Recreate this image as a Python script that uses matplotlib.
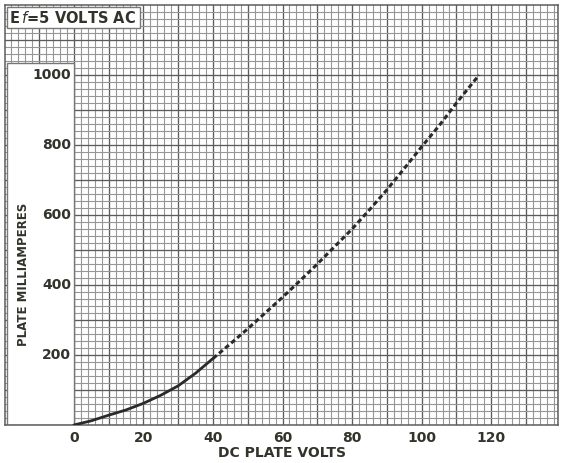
import numpy as np
import matplotlib
matplotlib.use("Agg")
import matplotlib.pyplot as plt
from matplotlib.patches import Rectangle

# plate volts vs plate milliamperes
volts = [0, 5, 10, 15, 20, 25, 30, 35, 40, 45, 50, 55, 60, 65, 70, 75,
         80, 85, 90, 95, 100, 105, 110, 116.5]
milliamps = [0, 12, 28, 43, 62, 85, 112, 148, 190, 232, 275, 320, 365, 412,
             460, 510, 560, 615, 672, 733, 795, 855, 920, 1000]
solid_until = 40

x_ticks = [0, 20, 40, 60, 80, 100, 120]
y_ticks = [200, 400, 600, 800, 1000]

title_text = "E$\\,f$=5 VOLTS AC"
x_label = "DC PLATE VOLTS"
y_label = "PLATE MILLIAMPERES"

ink = "#33332c"
xmin, xmax = -19.8, 139.2
ymin, ymax = 0, 1200

fig = plt.figure(figsize=(5.64, 4.63), dpi=100)
ax = fig.add_axes([5/564, 38/463, 553/564, 420/463])
ax.set_xlim(xmin, xmax)
ax.set_ylim(ymin, ymax)

# graph paper
for v in np.arange(-18, xmax, 2):
    major = abs(v % 10) < 1e-6
    ax.axvline(v, color="#5c5c5c" if major else "#969696",
               lw=0.95 if major else 0.8, zorder=1)
for i in np.arange(20, ymax, 20):
    major = abs(i % 100) < 1e-6
    ax.axhline(i, color="#5c5c5c" if major else "#969696",
               lw=0.95 if major else 0.8, zorder=1)

# white label strip at the left and the title box
ax.add_patch(Rectangle((xmin + 0.5, 0), -xmin - 0.5, 1034, facecolor="white",
                       edgecolor="#777777", lw=1.0, zorder=2))
ax.add_patch(Rectangle((-19.3, 1134), 38.3, 60, facecolor="white",
                       edgecolor="#777777", lw=1.0, zorder=2))
ax.text(-18.6, 1163, title_text, color=ink, fontsize=10.5, fontweight="bold",
        ha="left", va="center", zorder=3)

for t in y_ticks:
    ax.text(-0.8, t, str(t), color=ink, fontsize=10, fontweight="bold",
            ha="right", va="center", zorder=3)
ax.text(-14.5, 430, y_label, color=ink, fontsize=8.5, fontweight="bold",
        rotation=90, ha="center", va="center", zorder=3)

ax.set_xticks(x_ticks)
ax.set_xticklabels([str(t) for t in x_ticks], color=ink, fontsize=10,
                   fontweight="bold")
ax.tick_params(axis="x", length=0, pad=4)
ax.set_yticks([])
ax.set_xlabel(x_label, color=ink, fontsize=10, fontweight="bold",
              labelpad=1)

for s in ax.spines.values():
    s.set_color("#5c5c5c")
    s.set_linewidth(1.1)

# curve: solid at low voltage, dotted above
v = np.array(volts)
m = np.array(milliamps)
k = np.searchsorted(v, solid_until)
ax.plot(v[:k + 1], m[:k + 1], color="#2a2a2a", lw=2.0, zorder=4,
        solid_capstyle="round", solid_joinstyle="round")
ax.plot(v[k:], m[k:], color="#2a2a2a", lw=2.2, zorder=4,
        linestyle=(0, (1.6, 1.0)))

fig.savefig("out.png", dpi=100)
